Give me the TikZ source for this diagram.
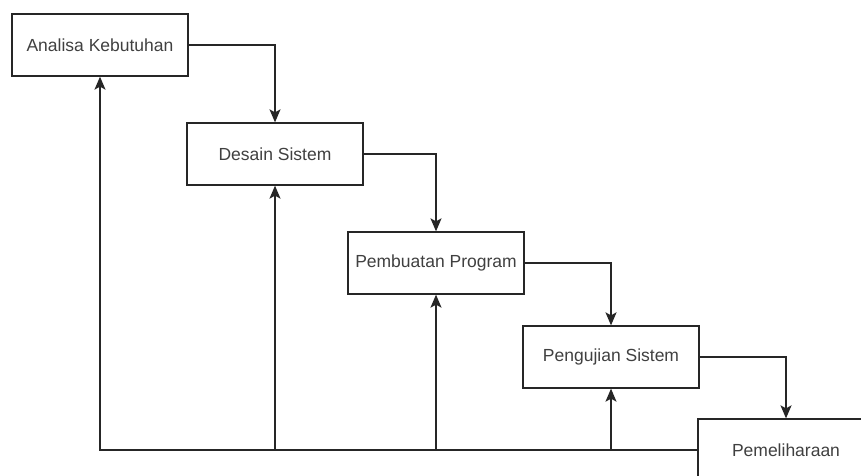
\documentclass[tikz,border=0pt]{standalone}
\usepackage{fontspec}
\setmainfont{Liberation Sans}
\usetikzlibrary{arrows.meta}
\tikzset{
  fase/.style={draw=black!85, line width=1.3pt, fill=white, minimum width=176pt,
    minimum height=62pt, inner sep=0pt, text=black!75, font=\fontsize{17.5}{21}\selectfont},
  alur/.style={draw=black!85, line width=1.4pt, -{Stealth[length=13pt,width=11pt,inset=3pt]}}
}
\begin{document}
\begin{tikzpicture}[x=1pt,y=-1pt]
\clip (0,0) rectangle (861,475);
\fill[white] (0,0) rectangle (861,475);
\node[fase] (analisa) at (100,45) {Analisa Kebutuhan};
        \node[fase] (desain) at (275,154) {Desain Sistem};
        \node[fase] (program) at (436,263) {Pembuatan Program};
        \node[fase] (uji) at (611,357) {Pengujian Sistem};
        \node[fase] (pelihara) at (786,450) {Pemeliharaan};

\draw[alur] (analisa.east) -| (desain.north);
\draw[alur] (desain.east) -| (program.north);
\draw[alur] (program.east) -| (uji.north);
\draw[alur] (uji.east) -| (pelihara.north);
\draw[alur] (pelihara.west) -| (analisa.south);
\draw[alur] (desain.south |- pelihara.west) -- (desain.south);
\draw[alur] (program.south |- pelihara.west) -- (program.south);
\draw[alur] (uji.south |- pelihara.west) -- (uji.south);
\end{tikzpicture}
\end{document}
